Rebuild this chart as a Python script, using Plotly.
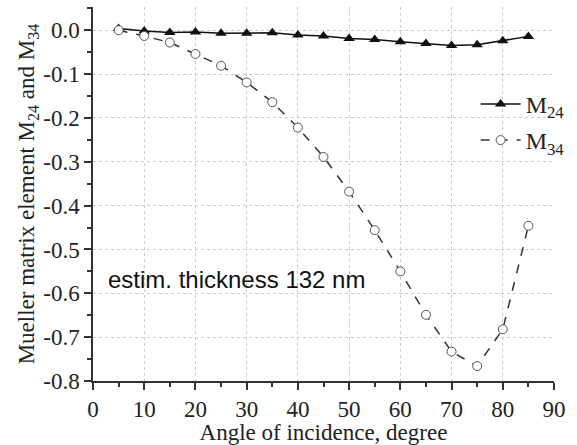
import plotly.graph_objects as go

angles = [5, 10, 15, 20, 25, 30, 35, 40, 45, 50, 55, 60, 65, 70, 75, 80, 85]
m24 = [0.004, -0.002, -0.005, -0.004, -0.007, -0.007, -0.006, -0.011, -0.013, -0.019,
       -0.021, -0.026, -0.030, -0.035, -0.033, -0.024, -0.014]
m34 = [0.0, -0.013, -0.028, -0.054, -0.081, -0.119, -0.164, -0.222, -0.289, -0.368,
       -0.456, -0.550, -0.649, -0.733, -0.766, -0.682, -0.446]

x_ticks = [0, 10, 20, 30, 40, 50, 60, 70, 80, 90]
y_ticks = [0.0, -0.1, -0.2, -0.3, -0.4, -0.5, -0.6, -0.7, -0.8]
y_ticktext = ["0.0", "-0.1", "-0.2", "-0.3", "-0.4", "-0.5", "-0.6", "-0.7", "-0.8"]

fig = go.Figure()
fig.add_trace(go.Scatter(
    x=angles, y=m24, mode="lines+markers", name="M<sub>24</sub>",
    legendgroup="a",
    line=dict(color="#111111", width=1.5),
    marker=dict(symbol="triangle-up", size=10, color="#111111"),
))
fig.add_trace(go.Scatter(
    x=angles, y=m34, mode="lines+markers", name="M<sub>34</sub>",
    legendgroup="b",
    line=dict(color="#333333", width=1.5, dash="dash"),
    marker=dict(symbol="circle", size=9, color="white", line=dict(width=1, color="#555555")),
))

serif = "Liberation Serif"
axis_common = dict(
    showline=True, linecolor="#333333", linewidth=1.5,
    ticks="outside", ticklen=7, tickwidth=1.5, tickcolor="#333333",
    showgrid=True, gridcolor="#cccccc", griddash="dot", gridwidth=1,
    zeroline=False, tickfont=dict(family=serif, size=23, color="#222222"),
)
fig.update_xaxes(
    range=[0, 90], tickvals=x_ticks,
    minor=dict(dtick=5, ticks="outside", ticklen=4, tickcolor="#333333", showgrid=False),
    title=dict(text="Angle of incidence, degree", font=dict(family=serif, size=23, color="#222222"), standoff=0),
    **axis_common,
)
fig.update_yaxes(
    range=[-0.8, 0.053], tickvals=y_ticks, ticktext=y_ticktext,
    minor=dict(dtick=0.05, ticks="outside", ticklen=4, tickcolor="#333333", showgrid=False),
    title=dict(text="Mueller matrix element M<sub>24</sub> and M<sub>34</sub>",
               font=dict(family=serif, size=23, color="#222222"), standoff=2),
    **axis_common,
)

fig.add_annotation(
    x=2.5, y=-0.569, xref="x", yref="y", text="estim. thickness 132 nm",
    showarrow=False, xanchor="left", yanchor="middle",
    font=dict(family="Liberation Sans", size=24, color="#111111"),
)

fig.update_layout(
    width=577, height=445,
    margin=dict(l=93, r=19, t=7, b=61),
    plot_bgcolor="white", paper_bgcolor="white",
    showlegend=True,
    legend=dict(x=0.83, y=0.80, xanchor="left", yanchor="top",
                bgcolor="rgba(0,0,0,0)", itemwidth=40,
                font=dict(family=serif, size=24, color="#222222"),
                tracegroupgap=2),
)

fig.write_html("out.html")
